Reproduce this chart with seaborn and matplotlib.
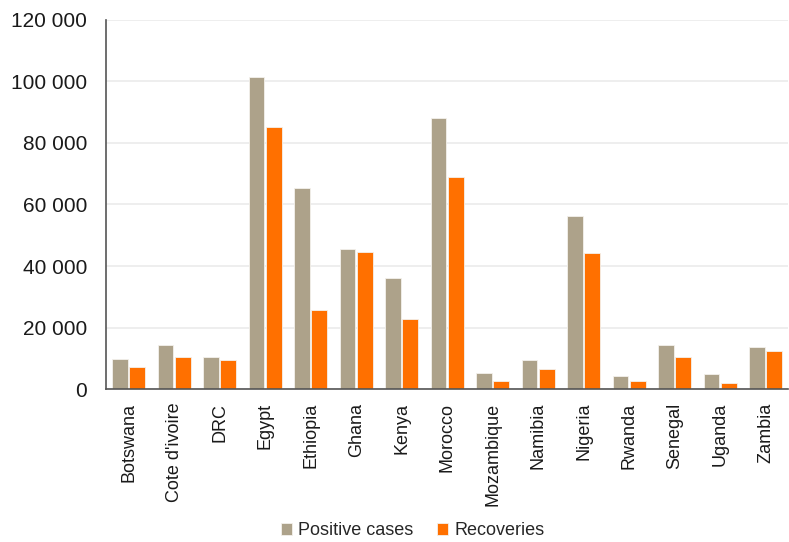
import matplotlib
matplotlib.use("Agg")
import matplotlib.pyplot as plt
import seaborn as sns
import pandas as pd
from matplotlib.ticker import FixedLocator, FixedFormatter

countries = ["Botswana", "Cote d'ivoire", "DRC", "Egypt", "Ethiopia", "Ghana", "Kenya",
             "Morocco", "Mozambique", "Namibia", "Nigeria", "Rwanda", "Senegal",
             "Uganda", "Zambia"]
positive_cases = [9800, 14400, 10400, 101200, 65400, 45500, 36100,
                  88200, 5300, 9700, 56300, 4500, 14400, 5000, 13700]
recoveries = [7200, 10600, 9700, 85000, 25700, 44500, 23000,
              69000, 2900, 6600, 44200, 2700, 10500, 2200, 12400]
series_names = ["Positive cases", "Recoveries"]
y_ticks = [0, 20000, 40000, 60000, 80000, 100000, 120000]
y_tick_labels = ["0", "20 000", "40 000", "60 000", "80 000", "100 000", "120 000"]

df = pd.DataFrame({
    "country": countries * 2,
    "value": positive_cases + recoveries,
    "series": [series_names[0]] * len(countries) + [series_names[1]] * len(countries),
})

sns.set_theme(style="white")
plt.rcParams["font.family"] = ["Liberation Sans", "DejaVu Sans"]

fig = plt.figure(figsize=(7.89, 5.42), dpi=100)
ax = fig.add_axes([0.1343, 0.2814, 0.8650, 0.6826])

palette = {series_names[0]: "#ADA28A", series_names[1]: "#FF7000"}
sns.barplot(data=df, x="country", y="value", hue="series", palette=palette,
            order=countries, hue_order=series_names, width=0.76, gap=0.09,
            edgecolor="#F4F1EC", linewidth=0.6, saturation=1, ax=ax,
            errorbar=None, legend=True, zorder=2)

ax.set_ylim(0, 120000)
ax.yaxis.set_major_locator(FixedLocator(y_ticks))
ax.yaxis.set_major_formatter(FixedFormatter(y_tick_labels))
ax.grid(axis="y", color="#EBEBEB", linewidth=1.2, zorder=0)
ax.set_axisbelow(True)
ax.set_xlabel("")
ax.set_ylabel("")

for side in ["top", "right"]:
    ax.spines[side].set_visible(False)
for side in ["left", "bottom"]:
    ax.spines[side].set_color("#555555")
    ax.spines[side].set_linewidth(1.2)
    ax.spines[side].set_zorder(5)

ax.tick_params(axis="y", labelsize=15, colors="#1A1A1A", length=0, pad=13.5)
ax.tick_params(axis="x", labelsize=13, colors="#1A1A1A", length=0, pad=9.5,
               labelrotation=90)

handles, labels = ax.get_legend_handles_labels()
ax.legend_.remove()
fig.legend(handles, labels, loc="center", bbox_to_anchor=(0.523, 0.021),
           ncol=2, frameon=False, handlelength=0.62, handleheight=0.62,
           handletextpad=0.33, columnspacing=1.3,
           prop={"size": 13})

fig.savefig("out.png", dpi=100)
